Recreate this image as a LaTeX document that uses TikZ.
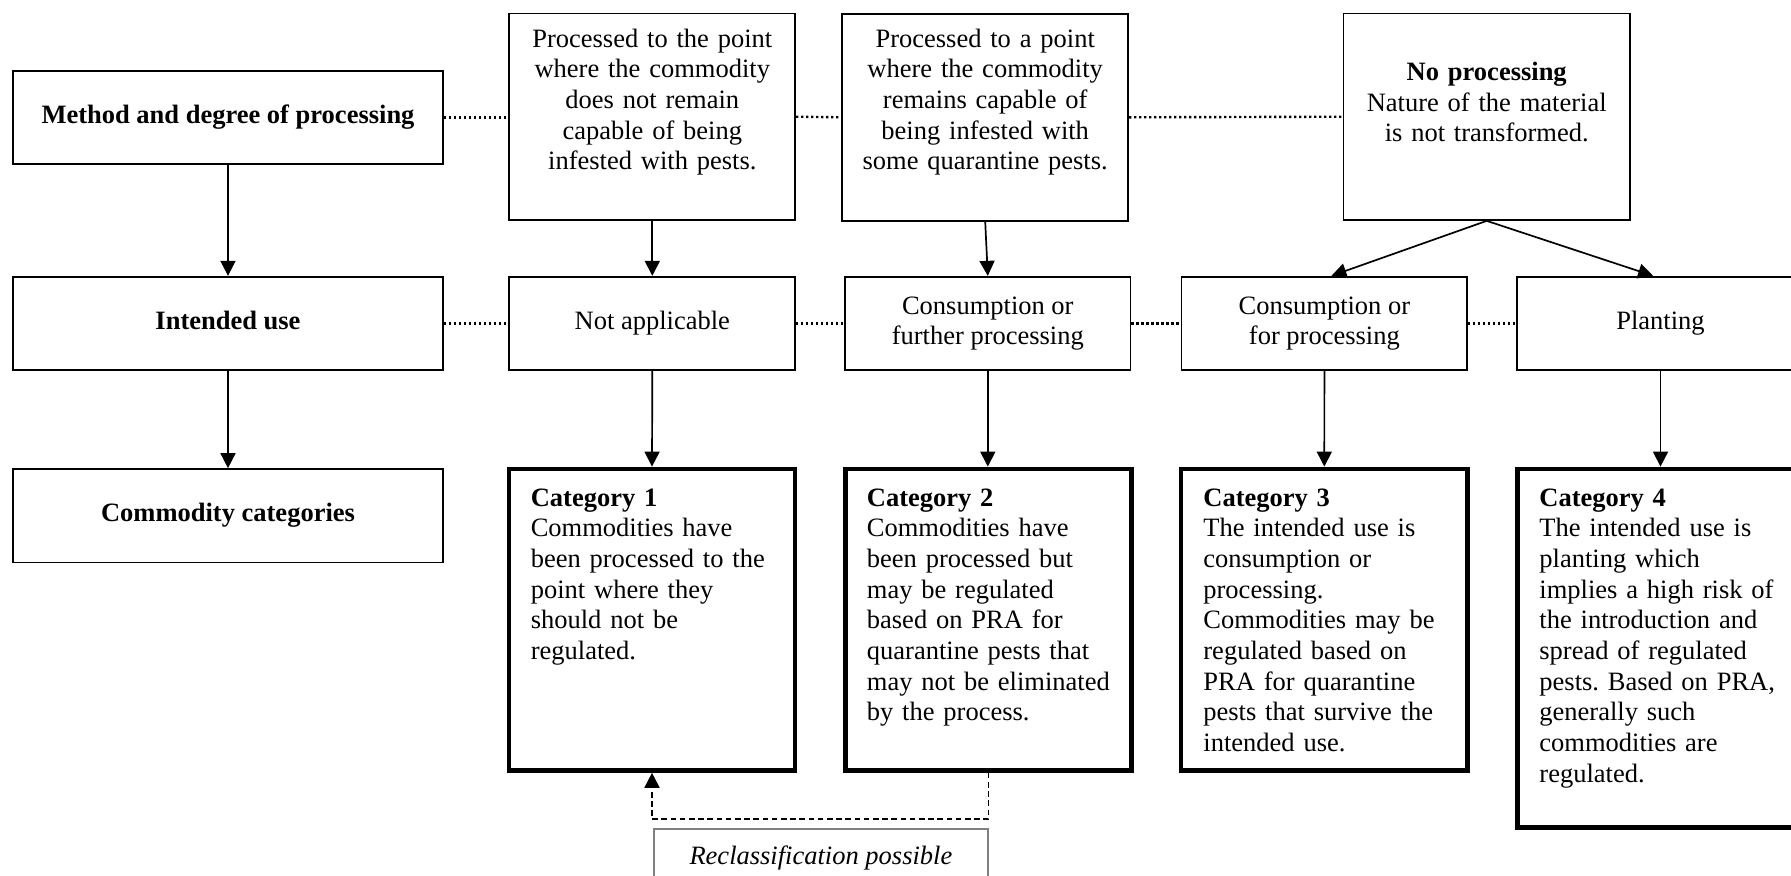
\documentclass[tikz,border=0pt]{standalone}
\usepackage{fontspec}
\setmainfont{Liberation Serif}
\usetikzlibrary{arrows.meta}
\frenchspacing
\begin{document}
\begin{tikzpicture}[x=0.5pt,y=-0.5pt,
  font=\fontsize{13.25pt}{15.35pt}\selectfont\frenchspacing,
  plainbox/.style={draw, line width=0.85pt, inner sep=0pt, align=center},
  catbox/.style={draw, line width=2.4pt, inner sep=0pt},
  arrowline/.style={line width=0.85pt, -{Triangle[length=7.5pt,width=7.5pt]}},
  dotline/.style={line width=1.2pt, dash pattern=on 1.1pt off 1.4pt},
  reclassline/.style={line width=0.85pt, dash pattern=on 2.8pt off 1.8pt, -{Triangle[length=7.5pt,width=7.5pt]}},
  toptext/.style={inner sep=0pt, anchor=base, align=center, text width=140pt},
  cattext/.style={inner sep=0pt, anchor=base west, align=left, text width=135pt},
]
\useasboundingbox (0,0) rectangle (1791,875);
\fill[white] (0,0) rectangle (1791,875);
\clip (0,0) rectangle (1791,875);

% row 1
\node[plainbox, minimum width=215pt, minimum height=46.8pt] (meth) at (228,117.5) {\strut\textbf{Method and degree of processing}};
\node[plainbox, minimum width=143pt, minimum height=103.3pt] (p1) at (652.3,116.7) {};
\node[plainbox, minimum width=143pt, minimum height=103.5pt] (p2) at (985.2,117.3) {};
\node[plainbox, minimum width=143.25pt, minimum height=103.3pt] (np) at (1486.7,116.7) {};
\node[toptext] (p1t) at (652.3,47) {Processed to the point\\where the commodity\\does not remain\\capable of being\\infested with pests.};
\node[toptext] (p2t) at (985.2,47) {Processed to a point\\where the commodity\\remains capable of\\being infested with\\some quarantine pests.};
\node[toptext] (npt) at (1486.7,80.5) {\textbf{No processing}\\Nature of the material\\is not transformed.};

% row 2
\node[plainbox, minimum width=215pt, minimum height=46.8pt] (int) at (228,323.5) {\strut\textbf{Intended use}};
\node[plainbox, minimum width=143pt, minimum height=46.8pt] (na) at (652.3,323.5) {\strut Not applicable};
\node[plainbox, minimum width=142.8pt, minimum height=46.8pt] (cf) at (987.8,323.5) {Consumption or\\further processing};
\node[plainbox, minimum width=142.9pt, minimum height=46.8pt] (cp) at (1324.4,323.5) {Consumption or\\for processing};
\node[plainbox, minimum width=143.5pt, minimum height=46.8pt] (pl) at (1660.5,323.5) {\strut Planting};

% row 3
\node[plainbox, minimum width=215pt, minimum height=46.8pt] (cc) at (228,515.8) {\strut\textbf{Commodity categories}};
\node[catbox, minimum width=143pt, minimum height=150.7pt] (c1) at (652,619.7) {};
\node[catbox, minimum width=143.25pt, minimum height=150.7pt] (c2) at (988.5,619.7) {};
\node[catbox, minimum width=143.4pt, minimum height=150.7pt] (c3) at (1324.3,619.7) {};
\node[catbox, minimum width=143.2pt, minimum height=179.4pt] (c4) at (1660.5,648.4) {};
\node[cattext] (c1t) at (530.4,506) {\textbf{Category 1}\\Commodities have\\been processed to the\\point where they\\should not be\\regulated.};
\node[cattext] (c2t) at (866.5,506) {\textbf{Category 2}\\Commodities have\\been processed but\\may be regulated\\based on PRA for\\quarantine pests that\\may not be eliminated\\by the process.};
\node[cattext] (c3t) at (1203,506) {\textbf{Category 3}\\The intended use is\\consumption or\\processing.\\Commodities may be\\regulated based on\\PRA for quarantine\\pests that survive the\\intended use.};
\node[cattext] (c4t) at (1539,506) {\textbf{Category 4}\\The intended use is\\planting which\\implies a high risk of\\the introduction and\\spread of regulated\\pests. Based on PRA,\\generally such\\commodities are\\regulated.};

% reclassification
\node[draw=black!50, line width=0.85pt, inner sep=0pt, minimum width=167pt, minimum height=29pt] (rc) at (820.9,858) {\itshape Reclassification possible};

% dotted links
\draw[dotline] (meth.east) -- (meth.east -| p1.west);
\draw[dotline] (p1.east) -- (p2.west);
\draw[dotline] (p2.east) -- (np.west);
\draw[dotline] (int.east) -- (na.west);
\draw[dotline] (na.east) -- (cf.west);
\draw[dotline] (cf.east) -- (cp.west);
\draw[dotline] (cp.east) -- (pl.west);

% arrows
\draw[arrowline] (meth.south) -- (int.north);
\draw[arrowline] (int.south) -- (cc.north);
\draw[arrowline] (p1.south) -- (na.north);
\draw[arrowline] (p2.south) -- (cf.north);
\draw[arrowline] (np.south) -- ([xshift=3.5pt]cp.north);
\draw[arrowline] (np.south) -- ([xshift=-3.7pt]pl.north);
\draw[arrowline] (na.south) -- (c1.north);
\draw[arrowline] (cf.south) -- (cf.south |- c2.north);
\draw[arrowline] (cp.south) -- (c3.north);
\draw[arrowline] (pl.south) -- (c4.north);
\draw[reclassline] (c2.south) -- ++(0,46.5) -| (c1.south);
\end{tikzpicture}
\end{document}
